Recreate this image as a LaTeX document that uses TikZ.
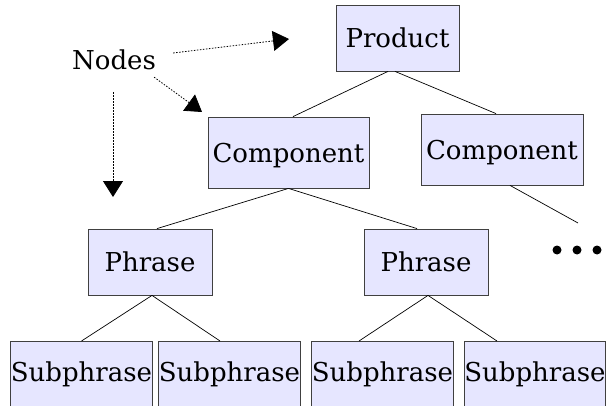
\documentclass[tikz,border=0pt]{standalone}
\usepackage{fontspec}
\setmainfont{DejaVu Serif}
\usetikzlibrary{arrows.meta}
\definecolor{boxfill}{HTML}{E6E6FF}
\tikzset{
  box/.style={draw=black!75, fill=boxfill, line width=0.8pt, inner sep=0pt,
    text height=19pt, text depth=0pt, font=\fontsize{26pt}{30pt}\selectfont},
  subbox/.style={draw=black!75, fill=boxfill, line width=0.8pt, inner sep=0pt, anchor=north,
    text height=40pt, text depth=40pt, font=\fontsize{26pt}{30pt}\selectfont},
  link/.style={line width=0.7pt, black},
  pointer/.style={line width=0.8pt, dash pattern=on 1.5pt off 1.5pt,
    -{Triangle[length=16pt,width=20pt]}},
  lbl/.style={inner sep=0pt, text height=19pt, text depth=0pt, font=\fontsize{26pt}{30pt}\selectfont}
}
\begin{document}
\begin{tikzpicture}[x=1pt,y=-1pt]
\useasboundingbox (0,0) rectangle (609,406);
\clip (0,0) rectangle (609,406);
\fill[white] (0,0) rectangle (609,406);
% nodes
\node[box, minimum width=123pt, minimum height=66pt] (prod) at (397.5,38) {Product};
\node[box, minimum width=161pt, minimum height=71pt] (compL) at (288.5,152.5) {Component};
\node[box, minimum width=162pt, minimum height=71pt] (compR) at (502,149.5) {Component};
\node[box, minimum width=124pt, minimum height=66pt] (phrL) at (150,262) {Phrase};
\node[box, minimum width=124pt, minimum height=66pt] (phrR) at (426,262) {Phrase};
\node[subbox, minimum width=139pt] (s1) at (81.5,341) {Subphrase};
\node[subbox, minimum width=139pt] (s2) at (229.5,341) {Subphrase};
\node[subbox, minimum width=139pt] (s3) at (382.5,341) {Subphrase};
\node[subbox, minimum width=138pt] (s4) at (535,341) {Subphrase};
% ellipsis
\coordinate (dots) at (577,250);
\coordinate (dotsTop) at (578,223);
\foreach \dx in {-20,0,20} \fill ([xshift=\dx pt]dots) circle (4.5pt);
% tree links
\draw[link] ([xshift=-9.5pt]prod.south) -- ([xshift=4.5pt]compL.north);
\draw[link] ([xshift=-2.5pt]prod.south) -- ([xshift=-6pt]compR.north);
\draw[link] (compL.south) -- ([xshift=7pt]phrL.north);
\draw[link] (compL.south) -- ([xshift=-9pt]phrR.north);
\draw[link] ([xshift=8pt]compR.south) -- (dotsTop);
\draw[link] ([xshift=2pt]phrL.south) -- (s1.north);
\draw[link] ([xshift=2pt]phrL.south) -- ([xshift=-9.5pt]s2.north);
\draw[link] ([xshift=2pt]phrR.south) -- ([xshift=-23.5pt]s3.north);
\draw[link] ([xshift=2pt]phrR.south) -- ([xshift=-38pt]s4.north);
% label and pointers
\node[lbl] (nodes) at (114,60.5) {Nodes};
\coordinate (t1) at (289,39);
\coordinate (t2) at (202,112);
\coordinate (t3) at (113,197);
\draw[pointer] ([shift={(17,-7.5)}]nodes.east) -- (t1);
\draw[pointer] ([shift={(-2,7)}]nodes.south east) -- (t2);
\draw[pointer] ([shift={(-1,22)}]nodes.south) -- (t3);
\end{tikzpicture}
\end{document}
